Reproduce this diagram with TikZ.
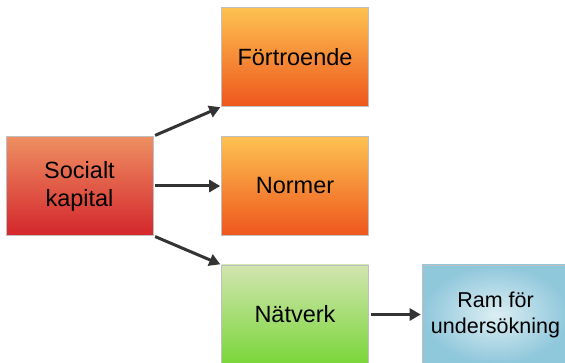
\documentclass[tikz,border=0pt]{standalone}
\usepackage{fontspec}
\setmainfont{Liberation Sans}
\usetikzlibrary{arrows.meta}
\definecolor{redtop}{HTML}{EE8F62}
\definecolor{redbot}{HTML}{D4262C}
\definecolor{orangetop}{HTML}{FDC252}
\definecolor{orangebot}{HTML}{EE561C}
\definecolor{greentop}{HTML}{D2E5B0}
\definecolor{greenbot}{HTML}{7AD63A}
\definecolor{bluein}{HTML}{DCEEF3}
\definecolor{blueout}{HTML}{8FC7DB}
\definecolor{pil}{HTML}{333333}
\begin{document}
\begin{tikzpicture}[x=1pt, y=-1pt, >={Triangle[length=11pt,width=12pt]},
    ruta/.style={draw=black!25, line width=0.6pt, minimum width=147pt, minimum height=99pt,
        inner sep=0pt, align=center, font=\fontsize{23.5}{28}\selectfont},
    pil/.style={->, line width=3pt, draw=pil, shorten <=2pt, shorten >=1pt}]
    \useasboundingbox (0,0) rectangle (565,363);
    % rutor
    \node[ruta, top color=redtop, bottom color=redbot] (soc) at (79.5,186) {Socialt\\kapital};
    \node[ruta, top color=orangetop, bottom color=orangebot] (tro) at (295,57) {Förtroende};
    \node[ruta, top color=orangetop, bottom color=orangebot] (norm) at (295,186) {Normer};
    \node[ruta, top color=greentop, bottom color=greenbot] (nat) at (295,314.5) {Nätverk};
    \node[ruta, inner color=bluein, outer color=blueout, font=\fontsize{21.5}{26}\selectfont]
        (ram) at (495.5,314.5) {Ram för\\undersökning};
    % pilar
    \draw[pil] (soc.north east) -- (tro.south west);
    \draw[pil] (soc.east) -- (norm.west);
    \draw[pil] (soc.south east) -- (nat.north west);
    \draw[pil] (nat.east) -- (ram.west);
\end{tikzpicture}
\end{document}
